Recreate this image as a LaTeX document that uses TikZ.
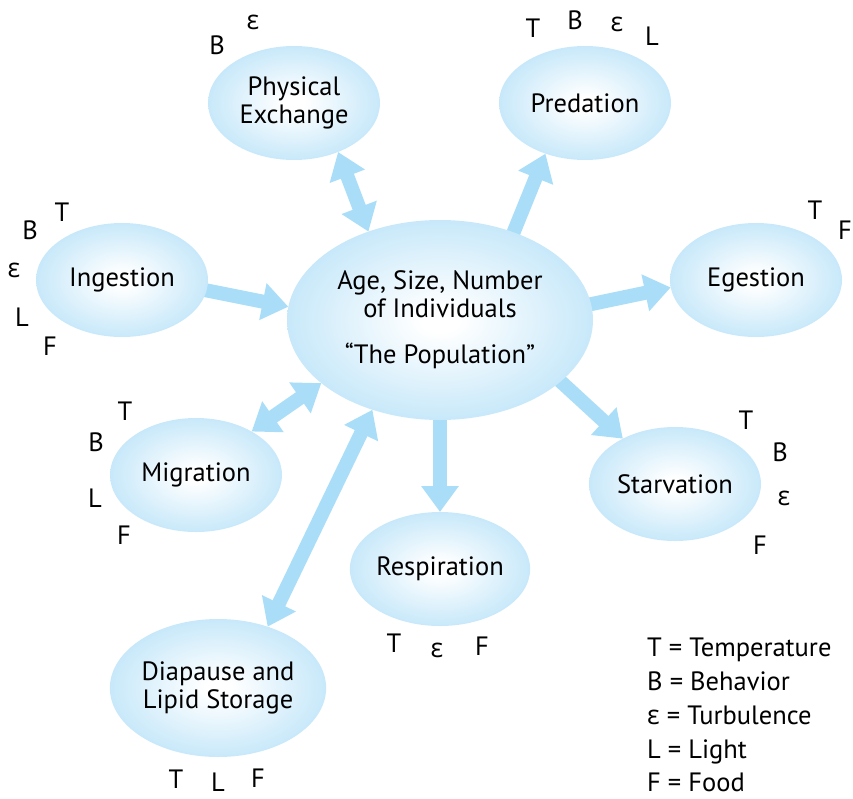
\documentclass[tikz,border=0pt]{standalone}
\usepackage{fontspec}
\setmainfont{PT Sans}
\newfontfamily\grk{Open Sans}
\usetikzlibrary{shapes.geometric,arrows.meta,backgrounds}
\definecolor{ellblue}{RGB}{162,217,246}
\definecolor{arrowblue}{RGB}{170,222,248}
\pgfdeclareradialshading{bubbleshade}{\pgfpointorigin}{color(0bp)=(white); color(3bp)=(white); color(40bp)=(ellblue); color(50bp)=(ellblue)}
\newcommand{\eps}{{\grk ε}}

\begin{document}
\begin{tikzpicture}[x=1pt,y=-1pt,
  blob/.style={ellipse, shading=bubbleshade, inner sep=0pt, outer sep=0pt, align=center,
    font=\fontsize{26.5}{28}\selectfont},
  small/.style={minimum width=172pt, minimum height=114pt},
  factor/.style={font=\fontsize{26.5}{28}\selectfont, inner sep=0pt},
  legend/.style={font=\fontsize{26.5}{28}\selectfont, inner sep=0pt, anchor=base west},
  flow/.style={draw=arrowblue, line width=14pt, -{Triangle[length=26pt,width=36pt]}, shorten <=-6pt},
  flowboth/.style={draw=arrowblue, line width=14pt,
    {Triangle[length=26pt,width=36pt]}-{Triangle[length=26pt,width=36pt]}}]
\useasboundingbox (0,0) rectangle (853,798);

% central population ellipse and the processes around it
\node[blob, minimum width=306pt, minimum height=200pt] (pop) at (440,320)
  {Age, Size, Number\\of Individuals\\[18pt]“The Population”};
\node[blob, small] (phys)  at (294,103) {Physical\\Exchange};
\node[blob, small] (pred)  at (585,103) {Predation};
\node[blob, small] (ing)   at (122,280) {Ingestion};
\node[blob, small] (eg)    at (756,280) {Egestion};
\node[blob, small] (mig)   at (196,475) {Migration};
\node[blob, small] (starv) at (675,484) {Starvation};
\node[blob, small] (resp)  at (440,569) {Respiration};
\node[blob, minimum width=210pt, minimum height=138pt] (diap) at (218,688)
  {Diapause and\\Lipid Storage};

% fluxes between the population and the processes
\begin{scope}[on background layer]
  \draw[flowboth] (phys.-48) -- (pop.129);
  \draw[flow] (pop.50) -- (pred.232);
  \draw[flow] (ing.-7) -- (pop.175);
  \draw[flow] (pop.6) -- (eg.185);
  \draw[flowboth] (mig.38) -- (pop.208);
  \draw[flow] (pop.-27) -- (starv.139);
  \draw[flow] (pop.-90) -- (resp.90);
  \draw[flowboth] (diap.51) -- (pop.233);
\end{scope}

% controlling factors
\node[factor] (physB) at (217,45) {B};
\node[factor] (physE) at (253,22) {\eps};

\node[factor] (predT) at (533,28) {T};
\node[factor] (predB) at (575,20) {B};
\node[factor] (predE) at (617,24) {\eps};
\node[factor] (predL) at (652,36) {L};

\node[factor] (ingT) at (62,212) {T};
\node[factor] (ingB) at (30,230) {B};
\node[factor] (ingE) at (14,270) {\eps};
\node[factor] (ingL) at (22,317) {L};
\node[factor] (ingF) at (50,346) {F};

\node[factor] (egT) at (815,210) {T};
\node[factor] (egF) at (845,230) {F};

\node[factor] (migT) at (125,411) {T};
\node[factor] (migB) at (96,442) {B};
\node[factor] (migL) at (95,498) {L};
\node[factor] (migF) at (124,535) {F};

\node[factor] (stT) at (746,420) {T};
\node[factor] (stB) at (780,452) {B};
\node[factor] (stE) at (784,498) {\eps};
\node[factor] (stF) at (760,545) {F};

\node[factor] (reT) at (394,643) {T};
\node[factor] (reE) at (437,650) {\eps};
\node[factor] (reF) at (482,646) {F};

\node[factor] (diT) at (176,779) {T};
\node[factor] (diL) at (218,782) {L};
\node[factor] (diF) at (258,778) {F};

% legend
\node[legend] (lgT) at (647,656) {T = Temperature};
\node[legend] (lgB) at (647,690) {B = Behavior};
\node[legend] (lgE) at (647,724) {\eps{} = Turbulence};
\node[legend] (lgL) at (647,758) {L = Light};
\node[legend] (lgF) at (647,791) {F = Food};
\end{tikzpicture}
\end{document}
